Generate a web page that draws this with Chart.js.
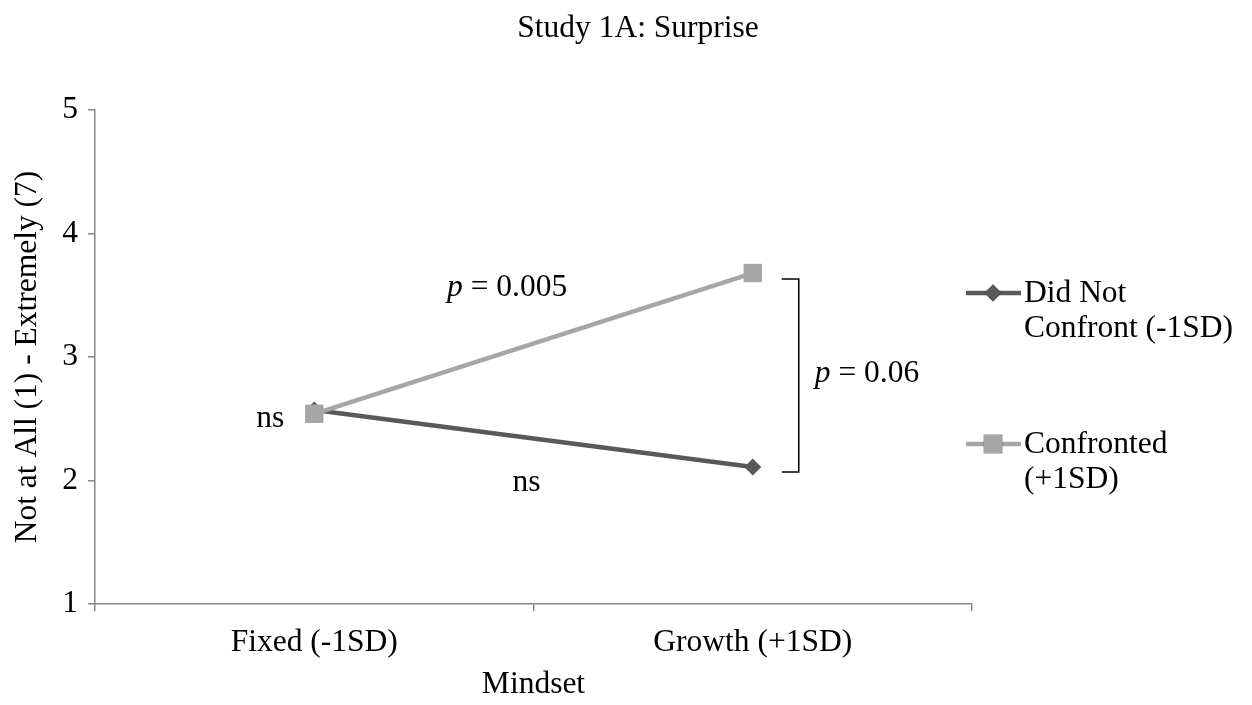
<!DOCTYPE html>
<html>
<head>
<meta charset="utf-8">
<script src="https://cdn.jsdelivr.net/npm/chart.js@4/dist/chart.umd.min.js"></script>
<style>
  html, body { margin: 0; padding: 0; background: #fff; }
  #wrap { width: 1252px; height: 705px; }
</style>
</head>
<body>
<div id="wrap"><canvas id="surpriseChart" width="1252" height="705"></canvas></div>
<script>
// Study 1A: Surprise
const chartTitle = 'Study 1A: Surprise';
const categories = ['Fixed (-1SD)', 'Growth (+1SD)'];
const didNotConfront = [2.57, 2.11];
const confronted = [2.54, 3.68];
const seriesNames = [['Did Not', 'Confront (-1SD)'], ['Confronted', '(+1SD)']];
const yMin = 1, yMax = 5, yStep = 1;

const serif = '"Liberation Serif", "Times New Roman", serif';
const fs = 31.5;
const darkGray = '#595959';
const lightGray = '#A6A6A6';
const axisGray = '#868686';

// title, annotations + legend drawn by hand
const extras = {
  id: 'extras',
  afterDraw(chart) {
    const ctx = chart.ctx;
    const x = chart.scales.x, y = chart.scales.y;
    const xFixed = x.getPixelForValue(0), xGrowth = x.getPixelForValue(1);
    ctx.save();
    ctx.fillStyle = '#000';
    ctx.textBaseline = 'alphabetic';
    ctx.font = fs + 'px ' + serif;
    ctx.textAlign = 'center';
    ctx.fillText(chartTitle, 638, 37);

    const pText = (px, py, rest) => {
      ctx.textAlign = 'left';
      ctx.font = 'italic ' + fs + 'px ' + serif;
      ctx.fillText('p', px, py);
      const w = ctx.measureText('p').width;
      ctx.font = fs + 'px ' + serif;
      ctx.fillText(rest, px + w, py);
    };

    // simple slope labels
    pText(447, 296, ' = 0.005');
    ctx.font = fs + 'px ' + serif;
    ctx.textAlign = 'right';
    ctx.fillText('ns', xFixed - 30, 427);
    ctx.textAlign = 'center';
    ctx.fillText('ns', (xFixed + xGrowth) / 2 - 7, 491);
    ctx.textAlign = 'left';

    // bracket between the two growth points
    const bx = xGrowth + 46;
    const top = y.getPixelForValue(confronted[1]) + 6;
    const bot = y.getPixelForValue(didNotConfront[1]) + 5;
    ctx.strokeStyle = '#000';
    ctx.lineWidth = 1.5;
    ctx.beginPath();
    ctx.moveTo(bx - 17, top);
    ctx.lineTo(bx, top);
    ctx.lineTo(bx, bot);
    ctx.lineTo(bx - 17, bot);
    ctx.stroke();
    pText(bx + 16, 382, ' = 0.06');

    // legend
    const legendRows = [293, 444];
    chart.data.datasets.forEach((ds, i) => {
      const ly = legendRows[i];
      ctx.strokeStyle = ds.borderColor;
      ctx.lineWidth = ds.borderWidth;
      ctx.beginPath();
      ctx.moveTo(966, ly);
      ctx.lineTo(1021, ly);
      ctx.stroke();
      Chart.helpers.drawPoint(ctx, {
        pointStyle: ds.pointStyle, radius: ds.pointRadius,
        borderWidth: 0, rotation: 0
      }, 993, ly);
      ctx.fillStyle = ds.backgroundColor;
      ctx.fill();
      ctx.fillStyle = '#000';
      ctx.font = fs + 'px ' + serif;
      ctx.textAlign = 'left';
      seriesNames[i].forEach((t, k) => ctx.fillText(t, 1024, ly + 9 + k * 35));
    });
    ctx.restore();
  }
};

const ctx = document.getElementById('surpriseChart').getContext('2d');
const surpriseChart = new Chart(ctx, {
  type: 'line',
  data: {
    labels: categories,
    datasets: [{
      label: 'Did Not Confront (-1SD)',
      data: didNotConfront,
      borderColor: darkGray,
      backgroundColor: darkGray,
      borderWidth: 4.5,
      pointStyle: 'rectRot',
      pointRadius: 8.5,
      pointBorderWidth: 0,
      order: 1
    }, {
      label: 'Confronted (+1SD)',
      data: confronted,
      borderColor: lightGray,
      backgroundColor: lightGray,
      borderWidth: 4.5,
      pointStyle: 'rect',
      pointRadius: 13,
      pointBorderWidth: 0,
      order: 0
    }]
  },
  options: {
    responsive: false,
    animation: false,
    devicePixelRatio: 1,
    layout: { padding: { top: 110, right: 280, left: 0, bottom: 0 } },
    plugins: {
      legend: { display: false },
      tooltip: { enabled: false },
      title: { display: false }
    },
    scales: {
      x: {
        offset: true,
        afterFit: s => { s.height = 101; },
        grid: { offset: true, drawOnChartArea: false, tickLength: 7, color: axisGray, lineWidth: 1.5 },
        border: { color: axisGray, width: 1.5 },
        ticks: { color: '#000', padding: 13, font: { family: serif, size: fs } },
        title: {
          display: true, text: 'Mindset', color: '#000',
          font: { family: serif, size: fs }, padding: { top: 0, bottom: 1 }
        }
      },
      y: {
        min: yMin, max: yMax,
        afterFit: s => { s.width = 95; },
        grid: { drawOnChartArea: false, tickLength: 7, color: axisGray, lineWidth: 1.5 },
        border: { color: axisGray, width: 1.5 },
        ticks: { stepSize: yStep, color: '#000', padding: 10, font: { family: serif, size: fs } },
        title: {
          display: true, text: 'Not at All (1) - Extremely (7)', color: '#000',
          font: { family: serif, size: fs }, padding: { top: 9, bottom: 0 }
        }
      }
    }
  },
  plugins: [extras]
});
</script>
</body>
</html>
